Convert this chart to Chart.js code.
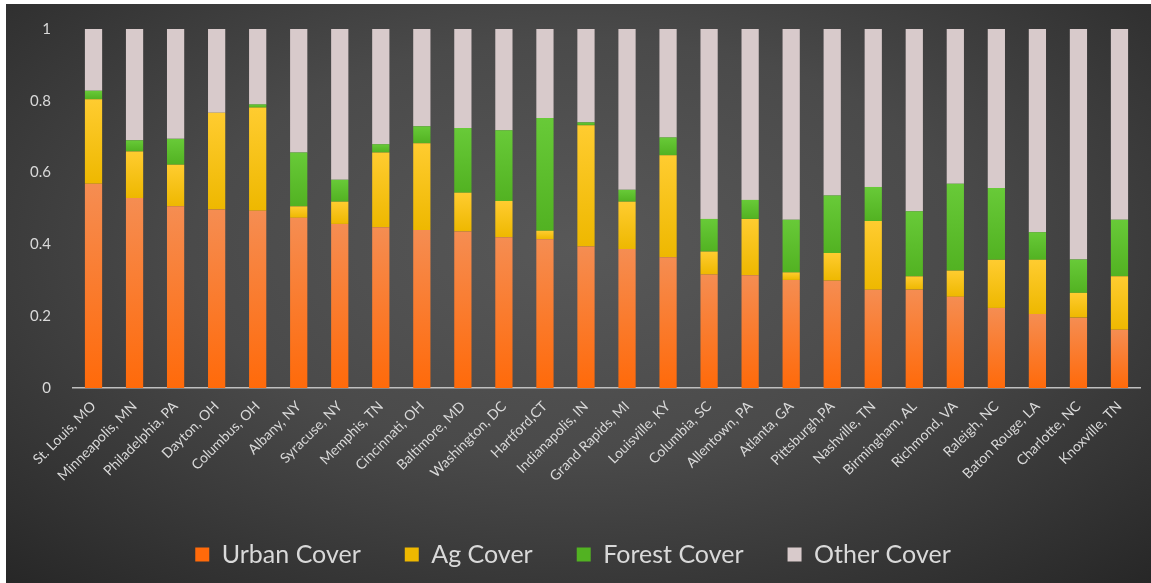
<!DOCTYPE html>
<html>
<head>
<meta charset="utf-8">
<script src="https://cdn.jsdelivr.net/npm/chart.js@4"></script>
<style>
  html, body { margin: 0; padding: 0; background: #fff; }
  #wrap {
    position: absolute; left: 6px; top: 4px; width: 1145px; height: 579px;
    background: radial-gradient(ellipse 75% 80% at 50% 42%, #585858 0%, #4a4a4a 45%, #333333 80%, #262626 100%);
  }
</style>
</head>
<body>
<div id="wrap"><canvas id="chart1"></canvas></div>
<script>
const cities = ['St. Louis, MO', 'Minneapolis, MN', 'Philadelphia, PA', 'Dayton, OH', 'Columbus, OH', 'Albany, NY',
    'Syracuse, NY', 'Memphis, TN', 'Cincinnati, OH', 'Baltimore, MD', 'Washington, DC', 'Hartford,CT',
    'Indianapolis, IN', 'Grand Rapids, MI', 'Louisville, KY', 'Columbia, SC', 'Allentown, PA', 'Atlanta, GA',
    'Pittsburgh,PA', 'Nashville, TN', 'Birmingham, AL', 'Richmond, VA', 'Raleigh, NC', 'Baton Rouge, LA',
    'Charlotte, NC', 'Knoxville, TN'];

const urban = [0.569, 0.529, 0.506, 0.497, 0.494, 0.474, 0.457, 0.448, 0.440, 0.436, 0.420, 0.414, 0.394,
    0.387, 0.364, 0.316, 0.314, 0.301, 0.299, 0.274, 0.274, 0.254, 0.223, 0.206, 0.196, 0.162];
const ag = [0.235, 0.130, 0.116, 0.270, 0.287, 0.032, 0.062, 0.208, 0.242, 0.108, 0.101, 0.024, 0.338,
    0.132, 0.284, 0.064, 0.157, 0.021, 0.077, 0.191, 0.037, 0.073, 0.134, 0.151, 0.069, 0.149];
const forest = [0.024, 0.031, 0.072, 0.000, 0.009, 0.150, 0.061, 0.023, 0.047, 0.180, 0.197, 0.314, 0.008,
    0.033, 0.050, 0.091, 0.053, 0.147, 0.160, 0.095, 0.181, 0.242, 0.200, 0.077, 0.093, 0.158];
const other = [0.172, 0.310, 0.306, 0.233, 0.210, 0.344, 0.420, 0.321, 0.271, 0.276, 0.282, 0.248, 0.260,
    0.448, 0.302, 0.529, 0.476, 0.531, 0.464, 0.440, 0.508, 0.431, 0.443, 0.566, 0.642, 0.531];

const yTicks = [0, 0.2, 0.4, 0.6, 0.8, 1];
const series = [urban, ag, forest, other];

// vertical gradient over each stacked segment, lighter at the top
function segmentFill(topColor, bottomColor, flat) {
    return (context) => {
        const chart = context.chart;
        const y = chart.scales.y;
        if (context.dataIndex === undefined || !y || !chart.chartArea) return flat;
        let start = 0;
        for (let s = 0; s < context.datasetIndex; s++) start += series[s][context.dataIndex];
        const end = start + series[context.datasetIndex][context.dataIndex];
        const y0 = y.getPixelForValue(end);
        const y1 = y.getPixelForValue(start);
        if (!isFinite(y0) || !isFinite(y1) || y1 - y0 < 1) return flat;
        const g = chart.ctx.createLinearGradient(0, y0, 0, y1);
        g.addColorStop(0, topColor);
        g.addColorStop(1, bottomColor);
        return g;
    };
}

Chart.defaults.font.family = 'Lato, "Open Sans", sans-serif';
Chart.defaults.color = '#d9d9d9';

const chart1 = new Chart(document.querySelector('#chart1'), {
    type: 'bar',
    data: {
        labels: cities,
        datasets: [
            { label: 'Urban Cover', data: urban, backgroundColor: segmentFill('#f58d52', '#ff6a0a', '#f97a2a') },
            { label: 'Ag Cover', data: ag, backgroundColor: segmentFill('#ffcc30', '#eeb800', '#fdc210') },
            { label: 'Forest Cover', data: forest, backgroundColor: segmentFill('#68ca38', '#52b222', '#5cc02c') },
            { label: 'Other Cover', data: other, backgroundColor: '#d8cacb' }
        ]
    },
    options: {
        responsive: true,
        maintainAspectRatio: false,
        animation: false,
        categoryPercentage: 1,
        barPercentage: 0.42,
        layout: { padding: { top: 25, right: 11, left: 0, bottom: 6 } },
        scales: {
            x: {
                stacked: true,
                grid: { display: false },
                border: { color: '#bfbfbf', width: 1.5 },
                ticks: {
                    autoSkip: false,
                    minRotation: 45,
                    maxRotation: 45,
                    padding: 2,
                    color: '#d9d9d9',
                    font: { size: 14 }
                },
                afterFit: (scale) => { scale.height = 110; }
            },
            y: {
                stacked: true,
                min: 0,
                max: 1,
                afterBuildTicks: (scale) => { scale.ticks = yTicks.map(v => ({ value: v })); },
                grid: { display: false },
                border: { display: false },
                ticks: {
                    padding: 14,
                    color: '#d9d9d9',
                    font: { size: 15 },
                    callback: (v) => String(v)
                },
                afterFit: (scale) => { scale.width = 67; }
            }
        },
        plugins: {
            legend: {
                position: 'bottom',
                labels: {
                    boxWidth: 14,
                    boxHeight: 14,
                    padding: 44,
                    color: '#d9d9d9',
                    font: { size: 25 }
                }
            },
            tooltip: { enabled: false }
        }
    }
});
</script>
</body>
</html>
